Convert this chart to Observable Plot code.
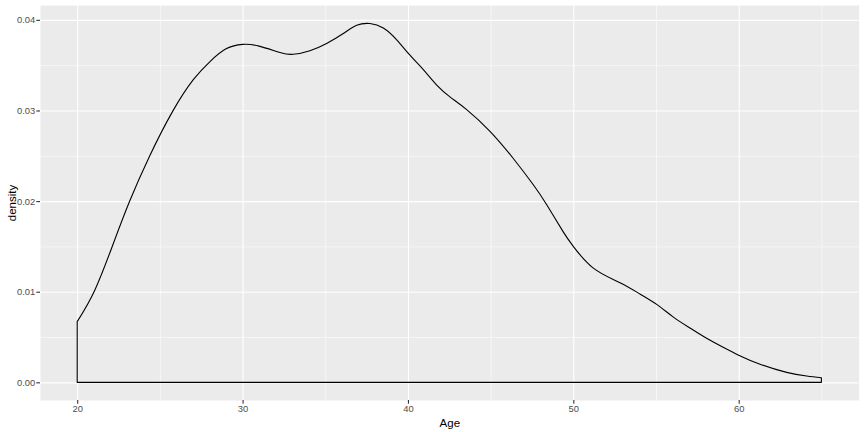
<!DOCTYPE html>
<html>
<head>
<meta charset="utf-8">
<script src="https://cdn.jsdelivr.net/npm/d3@7"></script>
<script src="https://cdn.jsdelivr.net/npm/@observablehq/plot@0.6"></script>
<style>
  html, body { margin: 0; padding: 0; background: #ffffff; }
  svg { display: block; }
</style>
</head>
<body>
<div id="chart"></div>
<script>
const age = [20, 21.07, 22.18, 23.15, 24.36, 25.77, 27.02, 28.03, 29.0, 30.0, 31.0, 32.26, 33.06, 34.07, 35.08, 36.09, 36.9, 37.7, 38.51, 39.32, 40.12, 40.93, 41.74, 42.54, 43.55, 44.96, 46.37, 47.58, 48.39, 49.39, 50.0, 51.21, 52.82, 54.03, 55.04, 56.05, 57.05, 58.06, 59.07, 60.0, 61.29, 62.9, 64.11, 65];
const density = [0.0067, 0.0102, 0.0153, 0.0199, 0.0249, 0.0299, 0.0334, 0.0354, 0.0368, 0.0373, 0.0371, 0.0364, 0.0362, 0.0366, 0.0374, 0.0385, 0.0394, 0.0396, 0.0391, 0.0378, 0.0361, 0.0345, 0.0328, 0.0315, 0.0301, 0.0277, 0.0247, 0.0218, 0.0196, 0.0166, 0.0150, 0.0126, 0.0110, 0.00975, 0.0086, 0.0072, 0.0060, 0.00486, 0.00386, 0.0030, 0.0020, 0.0011, 0.0007, 0.0005];
const xTicks = [20, 30, 40, 50, 60];
const xMinor = [25, 35, 45, 55, 65];
const yTicks = [0, 0.01, 0.02, 0.03, 0.04];
const yMinor = [0.005, 0.015, 0.025, 0.035];
const xTitle = "Age";
const yTitle = "density";

const data = age.map((a, i) => ({age: a, density: density[i]}));

const chart = Plot.plot({
  width: 864,
  height: 432,
  marginLeft: 40,
  marginRight: 5.4,
  marginTop: 5,
  marginBottom: 32,
  style: {fontFamily: "Liberation Sans, Arial, sans-serif", background: "#ffffff"},
  x: {domain: [17.75, 67.25]},
  y: {domain: [-0.00195, 0.04164]},
  marks: [
    Plot.frame({fill: "#EBEBEB", stroke: null}),
    Plot.ruleX(xMinor, {stroke: "#ffffff", strokeWidth: 0.55}),
    Plot.ruleY(yMinor, {stroke: "#ffffff", strokeWidth: 0.55}),
    Plot.ruleX(xTicks, {stroke: "#ffffff", strokeWidth: 1.1}),
    Plot.ruleY(yTicks, {stroke: "#ffffff", strokeWidth: 1.1}),
    Plot.areaY(data, {x: "age", y: "density", fill: "none", stroke: "#000000", strokeWidth: 1.1, curve: "natural"}),
    Plot.axisX({ticks: xTicks, tickSize: 3.7, tickPadding: 1.5, stroke: "#333333", strokeWidth: 1.1, color: "#4D4D4D", fontSize: 9.4, label: null, tickFormat: d => String(d)}),
    Plot.axisY({ticks: yTicks, tickSize: 3.7, tickPadding: 1.5, stroke: "#333333", strokeWidth: 1.1, color: "#4D4D4D", fontSize: 9.4, label: null, tickFormat: d3.format(".2f")}),
    Plot.text([xTitle], {frameAnchor: "bottom", dy: 26, fontSize: 11.5, fill: "#000000"}),
    Plot.text([yTitle], {frameAnchor: "left", dx: -28, rotate: -90, textAnchor: "middle", fontSize: 11.5, fill: "#000000"})
  ]
});
document.getElementById("chart").appendChild(chart);
</script>
</body>
</html>
